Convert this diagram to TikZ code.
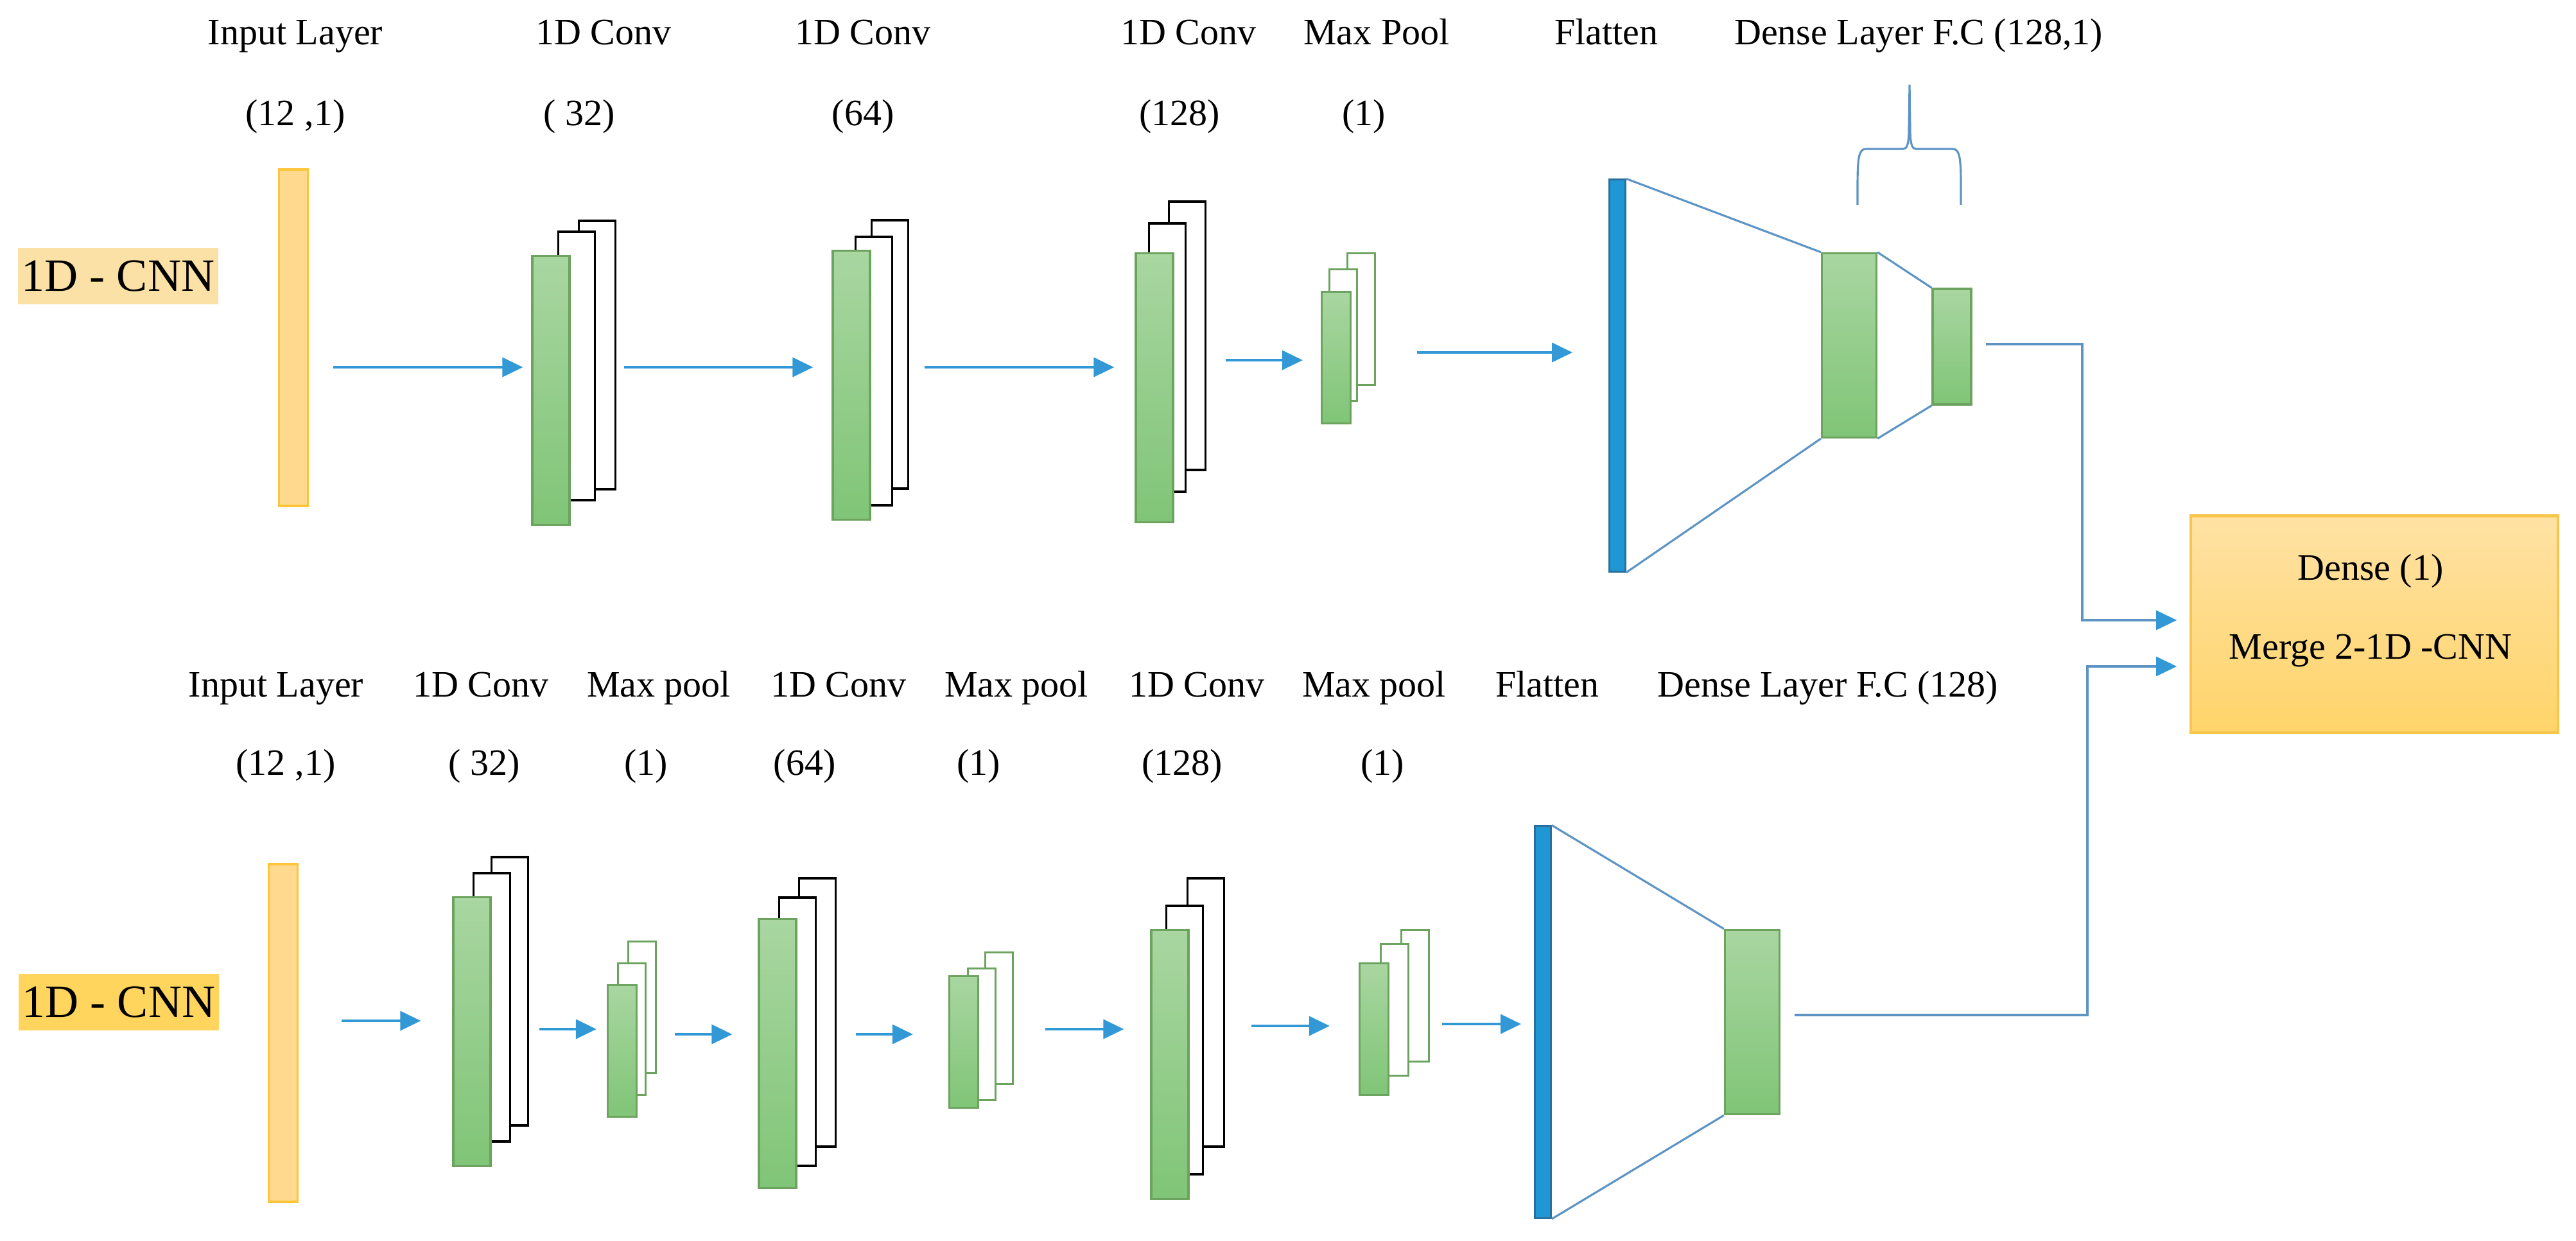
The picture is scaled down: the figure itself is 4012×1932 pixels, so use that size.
\documentclass[tikz,border=0pt]{standalone}
\usepackage{fontspec}
\setmainfont{Liberation Serif}
\usepackage{xcolor}
\usetikzlibrary{calc,arrows.meta}

\definecolor{flowblue}{HTML}{3399D6}
\definecolor{linkblue}{HTML}{5E94C4}
\definecolor{greentop}{HTML}{A9D6A1}
\definecolor{greenbot}{HTML}{80C577}
\definecolor{greenedge}{HTML}{6CA35E}
\definecolor{infill}{HTML}{FFDA8E}
\definecolor{inedge}{HTML}{FFC53A}
\definecolor{flatfill}{HTML}{1F97D4}
\definecolor{flatedge}{HTML}{2A709C}
\definecolor{tagtop}{HTML}{FCE1A6}
\definecolor{tagbot}{HTML}{FFD55E}
\definecolor{mergetop}{HTML}{FFE2A4}
\definecolor{mergebot}{HTML}{FFD46A}
\definecolor{mergeedge}{HTML}{F7C64A}

\tikzset{
  lbl/.style={font=\fontsize{16.5}{20}\selectfont, inner sep=0pt, anchor=base},
  tag/.style={font=\fontsize{20.5}{24}\selectfont, inner sep=0pt, minimum width=3.12cm, minimum height=0.88cm},
  inbar/.style={draw=inedge, fill=infill, line width=1pt, inner sep=0pt, minimum width=0.45cm},
  convf/.style={draw=greenedge, top color=greentop, bottom color=greenbot, line width=0.9pt, inner sep=0pt, minimum width=0.58cm, minimum height=4.18cm},
  convb/.style={draw=black, fill=white, line width=1.1pt, inner sep=0pt, minimum width=0.57cm, minimum height=4.18cm},
  poolf/.style={convf, minimum width=0.45cm, minimum height=2.05cm},
  poolb/.style={draw=greenedge, fill=white, line width=0.8pt, inner sep=0pt, minimum width=0.43cm, minimum height=2.05cm},
  flatbar/.style={draw=flatedge, fill=flatfill, line width=0.8pt, inner sep=0pt, minimum width=0.25cm, minimum height=6.1cm},
  dense/.style={convf, minimum width=0.85cm, minimum height=2.87cm},
  mergebox/.style={draw=mergeedge, top color=mergetop, bottom color=mergebot, line width=1.2pt, minimum width=5.71cm, minimum height=3.37cm},
  flow/.style={draw=flowblue, line width=1.1pt, -{Triangle[length=0.32cm,width=0.30cm]}},
  link/.style={draw=linkblue, line width=0.9pt},
  merger/.style={link, -{Triangle[length=0.32cm,width=0.30cm,color=flowblue]}},
}

\begin{document}
\begin{tikzpicture}[x=0.01cm, y=-0.01cm]
        \useasboundingbox (0,0) rectangle (4012,1932);
        % upper branch
        \node[tag, fill=tagtop] (ttag) at (184,430) {1D - CNN};
        \node[lbl] (tn1) at (460,69) {Input Layer};
        \node[lbl] (tn2) at (940,69) {1D Conv};
        \node[lbl] (tn3) at (1344,69) {1D Conv};
        \node[lbl] (tn4) at (1851,69) {1D Conv};
        \node[lbl] (tn5) at (2144,69) {Max Pool};
        \node[lbl] (tn6) at (2502,69) {Flatten};
        \node[lbl] (tn7) at (2988,69) {Dense Layer F.C (128,1)};
        \node[lbl] (ts1) at (460,195) {(12 ,1)};
        \node[lbl] (ts2) at (902,195) {( 32)};
        \node[lbl] (ts3) at (1344,195) {(64)};
        \node[lbl] (ts4) at (1837,195) {(128)};
        \node[lbl] (ts5) at (2124,195) {(1)};
        \node[inbar, minimum height=5.24cm] (tin) at (457,526) {};
        \node[convb] (tc1b) at (930,553) {};
        \node[convb] (tc1a) at (898,570) {};
        \node[convf] (tc1) at (858,608) {};
        \node[convb] (tc2b) at (1386,552) {};
        \node[convb] (tc2a) at (1361,578) {};
        \node[convf] (tc2) at (1326,600) {};
        \node[convb] (tc3b) at (1849,523) {};
        \node[convb] (tc3a) at (1818,557) {};
        \node[convf] (tc3) at (1798,604) {};
        \node[poolb] (tpb) at (2120,497) {};
        \node[poolb] (tpa) at (2092,522) {};
        \node[poolf] (tp) at (2081,557) {};
        \node[flatbar] (tf) at (2519,585) {};
        \node[dense] (td1) at (2880,538) {};
        \node[dense, minimum width=0.6cm, minimum height=1.8cm] (td2) at (3040,540) {};
        \draw[flow, shorten <=0.38cm, shorten >=0.13cm] (tin.east |- 0,572) -- (tc1.west |- 0,572);
        \draw[flow, shorten <=0.12cm, shorten >=0.29cm] (tc1b.east |- 0,572) -- (tc2.west |- 0,572);
        \draw[flow, shorten <=0.24cm, shorten >=0.32cm] (tc2b.east |- 0,572) -- (tc3.west |- 0,572);
        \draw[flow, shorten <=0.30cm, shorten >=0.28cm] (tc3b.east |- 0,561) -- (tp.west |- 0,561);
        \draw[flow, shorten <=0.64cm, shorten >=0.56cm] (tpb.east |- 0,549) -- (tf.west |- 0,549);
        \draw[link] (tf.north east) -- (td1.north west);
        \draw[link] (tf.south east) -- (td1.south west);
        \draw[link] (td1.north east) -- (td2.north west);
        \draw[link] (td1.south east) -- (td2.south west);
        \draw[link] (2893,319) -- (2893,290) .. controls (2893,245) and (2895,232) .. (2906,232) -- (2964,232)
            .. controls (2970,232) and (2973,225) .. (2973,200) -- (2974,132) -- (2975,200)
            .. controls (2975,225) and (2978,232) .. (2984,232) -- (3041,232)
            .. controls (3052,232) and (3054,245) .. (3054,290) -- (3054,319);
        % lower branch
        \node[tag, fill=tagbot] (btag) at (185,1561) {1D - CNN};
        \node[lbl] (bn1) at (430,1085) {Input Layer};
        \node[lbl] (bn2) at (749,1085) {1D Conv};
        \node[lbl] (bn3) at (1026,1085) {Max pool};
        \node[lbl] (bn4) at (1306,1085) {1D Conv};
        \node[lbl] (bn5) at (1583,1085) {Max pool};
        \node[lbl] (bn6) at (1864,1085) {1D Conv};
        \node[lbl] (bn7) at (2140,1085) {Max pool};
        \node[lbl] (bn8) at (2410,1085) {Flatten};
        \node[lbl] (bn9) at (2847,1085) {Dense Layer F.C (128)};
        \node[lbl] (bs1) at (445,1207) {(12 ,1)};
        \node[lbl] (bs2) at (754,1207) {( 32)};
        \node[lbl] (bs3) at (1006,1207) {(1)};
        \node[lbl] (bs4) at (1253,1207) {(64)};
        \node[lbl] (bs5) at (1524,1207) {(1)};
        \node[lbl] (bs6) at (1841,1207) {(128)};
        \node[lbl] (bs7) at (2153,1207) {(1)};
        \node[inbar, minimum height=5.26cm] (bin) at (441,1609) {};
        \node[convb] (bc1b) at (794,1544) {};
        \node[convb] (bc1a) at (766,1569) {};
        \node[convf] (bc1) at (735,1607) {};
        \node[poolb] (bp1b) at (1000,1569) {};
        \node[poolb] (bp1a) at (984,1603) {};
        \node[poolf] (bp1) at (969,1637) {};
        \node[convb] (bc2b) at (1273,1577) {};
        \node[convb] (bc2a) at (1242,1607) {};
        \node[convf] (bc2) at (1211,1641) {};
        \node[poolb] (bp2b) at (1556,1586) {};
        \node[poolb] (bp2a) at (1529,1611) {};
        \node[poolf] (bp2) at (1501,1623) {};
        \node[convb] (bc3b) at (1878,1577) {};
        \node[convb] (bc3a) at (1845,1620) {};
        \node[convf] (bc3) at (1822,1658) {};
        \node[poolb] (bp3b) at (2204,1551) {};
        \node[poolb] (bp3a) at (2172,1573) {};
        \node[poolf] (bp3) at (2140,1603) {};
        \node[flatbar] (bf) at (2403,1592) {};
        \node[dense] (bd) at (2729,1592) {};
        \draw[flow, shorten <=0.67cm, shorten >=0.49cm] (bin.east |- 0,1590) -- (bc1.west |- 0,1590);
        \draw[flow, shorten <=0.16cm, shorten >=0.16cm] (bc1b.east |- 0,1603) -- (bp1.west |- 0,1603);
        \draw[flow, shorten <=0.28cm, shorten >=0.40cm] (bp1b.east |- 0,1611) -- (bc2.west |- 0,1611);
        \draw[flow, shorten <=0.30cm, shorten >=0.55cm] (bc2b.east |- 0,1611) -- (bp2.west |- 0,1611);
        \draw[flow, shorten <=0.49cm, shorten >=0.41cm] (bp2b.east |- 0,1603) -- (bc3.west |- 0,1603);
        \draw[flow, shorten <=0.40cm, shorten >=0.45cm] (bc3b.east |- 0,1598) -- (bp3.west |- 0,1598);
        \draw[flow, shorten <=0.19cm, shorten >=0.20cm] (bp3b.east |- 0,1595) -- (bf.west |- 0,1595);
        \draw[link] (bf.north east) -- (bd.north west);
        \draw[link] (bf.south east) -- (bd.south west);
        % merge
        \node[mergebox] (merge) at (3698,972) {};
        \node[lbl] (mt1) at (3692,903) {Dense (1)};
        \node[lbl] (mt2) at (3692,1026) {Merge 2-1D -CNN};
        \coordinate (tj) at (3243,966);
        \coordinate (bj) at (3251,1038);
        \draw[merger, shorten <=0.21cm, shorten >=0.2cm] (td2.east |- 0,536) -| (tj) -- (merge.west |- tj);
        \draw[merger, shorten <=0.22cm, shorten >=0.2cm] (bd.east |- 0,1581) -| (bj) -- (merge.west |- bj);
    \end{tikzpicture}
\end{document}
